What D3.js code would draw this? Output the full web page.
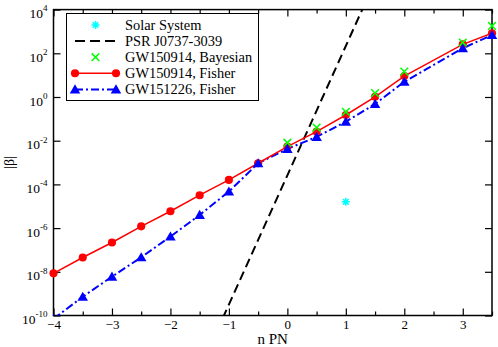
<!DOCTYPE html>
<html>
<head>
<meta charset="utf-8">
<script src="https://cdn.jsdelivr.net/npm/d3@7"></script>
<style>
  body { margin: 0; background: #fff; }
  svg { display: block; font-family: "Liberation Serif", "Times New Roman", serif; }
  .axis path.domain { display: none; }
  .axis line { stroke: #000; stroke-width: 1.2; }
</style>
</head>
<body>
<svg width="498" height="347"></svg>
<script>
// n PN orders
const nFisher = [-4, -3.5, -3, -2.5, -2, -1.5, -1, -0.5, 0, 0.5, 1, 1.5, 2, 3, 3.5];
const gw150914Fisher = [8.5e-9, 4.5e-8, 2.2e-7, 1.2e-6, 5.9e-6, 3.2e-5, 1.6e-4, 9.3e-4,
                        5.4e-3, 2.6e-2, 0.15, 1.02, 9.1, 257, 832];
const gw151226Fisher = [7e-11, 7.2e-10, 6.0e-9, 4.6e-8, 4.1e-7, 4.0e-6, 4.7e-5, 9.3e-4,
                        4.2e-3, 1.5e-2, 7.4e-2, 0.48, 5.0, 170, 690];

const nBayes = [0, 0.5, 1, 1.5, 2, 3, 3.5];
const gw150914Bayes = [8.1e-3, 4.0e-2, 0.21, 1.5, 14.5, 310, 1780];

const nPsr = [-1.5, 0, 1.5];
const psr = [3.5e-13, 2.6e-4, 2.0e5];

const nSolar = [1];
const solar = [1.6e-5];

const xMajor = [-4, -3, -2, -1, 0, 1, 2, 3];
const xMinor = [-3.5, -2.5, -1.5, -0.5, 0.5, 1.5, 2.5, 3.5];
const yTicks = [1e-10, 1e-8, 1e-6, 1e-4, 1e-2, 1e0, 1e2, 1e4];

const legendLabels = ["Solar System", "PSR J0737-3039", "GW150914, Bayesian",
                      "GW150914, Fisher", "GW151226, Fisher"];

const svg = d3.select("svg");
const plot = {left: 53.5, right: 492, top: 9.6, bottom: 315.5};

const x = d3.scaleLinear().domain([-4, 3.5]).range([plot.left, plot.right]);
const y = d3.scaleLog().domain([1e-10, 1e4]).range([plot.bottom, plot.top]);

const defs = svg.append("defs");
defs.append("clipPath").attr("id", "clipLines")
  .append("rect")
  .attr("x", plot.left).attr("y", plot.top)
  .attr("width", plot.right - plot.left).attr("height", plot.bottom - plot.top);
defs.append("clipPath").attr("id", "clipMarks")
  .append("rect")
  .attr("x", 0).attr("y", 0)
  .attr("width", 498).attr("height", plot.bottom);

// axes (ticks pointing inward)
svg.append("g").attr("class", "axis")
  .attr("transform", `translate(0,${plot.bottom})`)
  .call(d3.axisBottom(x).tickValues(xMajor).tickSize(-7).tickPadding(4).tickFormat(d3.format("d")))
  .call(g => g.selectAll("text").attr("font-size", 13).attr("fill", "#000")
    .attr("font-family", "Liberation Serif"));
svg.append("g").attr("class", "axis")
  .attr("transform", `translate(0,${plot.bottom})`)
  .call(d3.axisBottom(x).tickValues(xMinor).tickSize(-4).tickFormat(""));
svg.append("g").attr("class", "axis")
  .attr("transform", `translate(0,${plot.top})`)
  .call(d3.axisTop(x).tickValues(xMajor).tickSize(-7).tickFormat(""));
svg.append("g").attr("class", "axis")
  .attr("transform", `translate(0,${plot.top})`)
  .call(d3.axisTop(x).tickValues(xMinor).tickSize(-4).tickFormat(""));

svg.append("g").attr("class", "axis")
  .attr("transform", `translate(${plot.left},0)`)
  .call(d3.axisLeft(y).tickValues(yTicks).tickSize(-7).tickPadding(6))
  .call(g => g.selectAll(".tick text").each(function(d) {
    const e = Math.round(Math.log10(d));
    const t = d3.select(this).text("10")
      .attr("font-size", 13.5).attr("fill", "#000")
      .attr("font-family", "Liberation Serif").attr("dy", "0.6em");
    t.append("tspan").attr("dy", "-0.75em").attr("font-size", 9).text(e);
  }));
svg.append("g").attr("class", "axis")
  .attr("transform", `translate(${plot.right},0)`)
  .call(d3.axisRight(y).tickValues(yTicks).tickSize(-7).tickFormat(""));

svg.append("rect")
  .attr("x", plot.left).attr("y", plot.top)
  .attr("width", plot.right - plot.left).attr("height", plot.bottom - plot.top)
  .attr("fill", "none").attr("stroke", "#000").attr("stroke-width", 1.5);

// axis titles
svg.append("text")
  .attr("x", (plot.left + plot.right) / 2).attr("y", 344)
  .attr("text-anchor", "middle").attr("font-size", 15)
  .text("n PN");
svg.append("text")
  .attr("transform", `translate(14,${(plot.top + plot.bottom) / 2}) rotate(-90)`)
  .attr("text-anchor", "middle").attr("font-size", 14)
  .text("|β|");

// series
const line = d3.line().x(d => x(d[0])).y(d => y(d[1]));
const zip = (a, b) => a.map((v, i) => [v, b[i]]);

const lines = svg.append("g").attr("clip-path", "url(#clipLines)");
const marks = svg.append("g").attr("clip-path", "url(#clipMarks)");

lines.append("path").datum(zip(nPsr, psr))
  .attr("d", line).attr("fill", "none")
  .attr("stroke", "#000").attr("stroke-width", 2).attr("stroke-dasharray", "9,5");

lines.append("path").datum(zip(nFisher, gw151226Fisher))
  .attr("d", line).attr("fill", "none")
  .attr("stroke", "#0000ff").attr("stroke-width", 2).attr("stroke-dasharray", "8,3,2,3");

lines.append("path").datum(zip(nFisher, gw150914Fisher))
  .attr("d", line).attr("fill", "none")
  .attr("stroke", "#ff0000").attr("stroke-width", 1.5);

const tri = d3.symbol().type(d3.symbolTriangle).size(48);
const circ = d3.symbol().type(d3.symbolCircle).size(52);
const cross = d3.symbol().type(d3.symbolTimes).size(40);

function asterisk(r) {
  let p = "";
  for (let k = 0; k < 4; k++) {
    const a = k * Math.PI / 4;
    const dx = r * Math.cos(a), dy = r * Math.sin(a);
    p += `M${-dx},${-dy}L${dx},${dy}`;
  }
  return p;
}

marks.selectAll("path.circ").data(zip(nFisher, gw150914Fisher)).enter()
  .append("path").attr("class", "circ").attr("d", circ)
  .attr("transform", d => `translate(${x(d[0])},${y(d[1])})`)
  .attr("fill", "#ff0000");

marks.selectAll("path.tri").data(zip(nFisher, gw151226Fisher)).enter()
  .append("path").attr("class", "tri").attr("d", tri)
  .attr("transform", d => `translate(${x(d[0])},${y(d[1]) + 1})`)
  .attr("fill", "#0000ff");

marks.selectAll("path.cross").data(zip(nBayes, gw150914Bayes)).enter()
  .append("path").attr("class", "cross").attr("d", cross)
  .attr("transform", d => `translate(${x(d[0])},${y(d[1])})`)
  .attr("fill", "none").attr("stroke", "#00ff00").attr("stroke-width", 1.5);

marks.selectAll("path.star").data(zip(nSolar, solar)).enter()
  .append("path").attr("class", "star").attr("d", asterisk(4))
  .attr("transform", d => `translate(${x(d[0])},${y(d[1])})`)
  .attr("stroke", "#00ffff").attr("stroke-width", 1.5);

// legend
const legend = svg.append("g");
legend.append("rect")
  .attr("x", 66.5).attr("y", 13.5).attr("width", 192).attr("height", 87)
  .attr("fill", "#fff").attr("stroke", "#000").attr("stroke-width", 1);

const rowY = i => 25 + i * 16.1;
const x0 = 75, x1 = 116, xm = 95.5;

legendLabels.forEach((label, i) => {
  legend.append("text")
    .attr("x", 125).attr("y", rowY(i)).attr("dy", "0.35em")
    .attr("font-size", 14.4).text(label);
});

legend.append("path").attr("d", asterisk(4))
  .attr("transform", `translate(${xm},${rowY(0)})`)
  .attr("stroke", "#00ffff").attr("stroke-width", 1.5);

legend.append("line")
  .attr("x1", x0).attr("x2", x1).attr("y1", rowY(1)).attr("y2", rowY(1))
  .attr("stroke", "#000").attr("stroke-width", 2).attr("stroke-dasharray", "10,5");

legend.append("path").attr("d", cross)
  .attr("transform", `translate(${xm},${rowY(2)})`)
  .attr("fill", "none").attr("stroke", "#00ff00").attr("stroke-width", 1.5);

legend.append("line")
  .attr("x1", x0).attr("x2", x1).attr("y1", rowY(3)).attr("y2", rowY(3))
  .attr("stroke", "#ff0000").attr("stroke-width", 1.5);
[x0, x1].forEach(px => legend.append("path").attr("d", circ)
  .attr("transform", `translate(${px},${rowY(3)})`).attr("fill", "#ff0000"));

legend.append("line")
  .attr("x1", x0).attr("x2", x1).attr("y1", rowY(4)).attr("y2", rowY(4))
  .attr("stroke", "#0000ff").attr("stroke-width", 2).attr("stroke-dasharray", "8,3,2,3");
[x0, x1].forEach(px => legend.append("path").attr("d", tri)
  .attr("transform", `translate(${px},${rowY(4) + 1})`).attr("fill", "#0000ff"));
</script>
</body>
</html>
